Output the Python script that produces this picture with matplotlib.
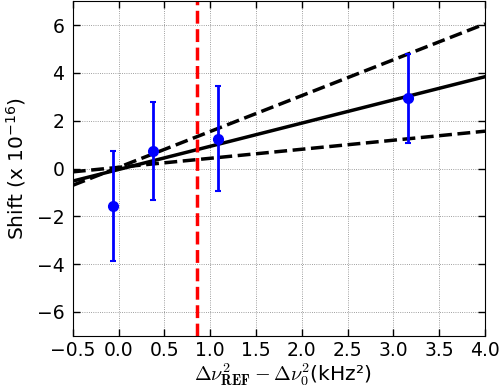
import matplotlib
matplotlib.use('Agg')
import numpy as np
import matplotlib.pyplot as plt

# measured points
x_pts = np.array([-0.06, 0.38, 1.09, 3.16])
y_pts = np.array([-1.58, 0.72, 1.25, 2.93])
y_err = np.array([2.30, 2.05, 2.20, 1.87])

# fit lines: intercept, slope
fit_x = np.array([-0.5, 4.0])
fit_solid = (-0.04, 0.97)
fit_upper = (0.05, 1.50)
fit_lower = (0.05, 0.378)

x_ref = 0.855

x_ticks = np.arange(-0.5, 4.01, 0.5)
y_ticks = [-6, -4, -2, 0, 2, 4, 6]

fig = plt.figure(figsize=(4.99, 3.91), dpi=100)
ax = fig.add_axes([0.146, 0.141, 0.826, 0.856])

ax.grid(True, color='k', linestyle=':', linewidth=0.6, alpha=0.5)
ax.set_axisbelow(True)

ax.plot(fit_x, fit_solid[0] + fit_solid[1]*fit_x, color='k', lw=2.5, zorder=2)
ax.plot(fit_x, fit_upper[0] + fit_upper[1]*fit_x, color='k', lw=2.5, ls='--', zorder=2)
ax.plot(fit_x, fit_lower[0] + fit_lower[1]*fit_x, color='k', lw=2.5, ls='--', zorder=2)
ax.axvline(x_ref, color='r', lw=2.5, ls='--', zorder=2)

ax.errorbar(x_pts, y_pts, yerr=y_err, fmt='o', color='b', ecolor='b',
            ms=7, elinewidth=2, capsize=2.5, capthick=1.5, zorder=3)

ax.set_xlim(-0.5, 4.0)
ax.set_ylim(-7, 7)
ax.set_xticks(x_ticks)
ax.set_yticks(y_ticks)
ax.tick_params(direction='in', top=True, right=True, length=5, width=1,
               labelsize=13.5)
ax.tick_params(axis='x', pad=4)
ax.tick_params(axis='y', pad=6)

ax.set_ylabel('Shift (x 10$^{-16}$)', fontsize=14.5, labelpad=6)
ax.set_xlabel(r'$\Delta\nu^2_{\mathbf{REF}}-\Delta\nu^2_0$(kHz²)', fontsize=14.5,
              math_fontfamily='cm', labelpad=0)
ax.xaxis.set_label_coords(0.51, -0.075)
ax.xaxis.label.set_va('top')

fig.savefig('out.png', dpi=100)
